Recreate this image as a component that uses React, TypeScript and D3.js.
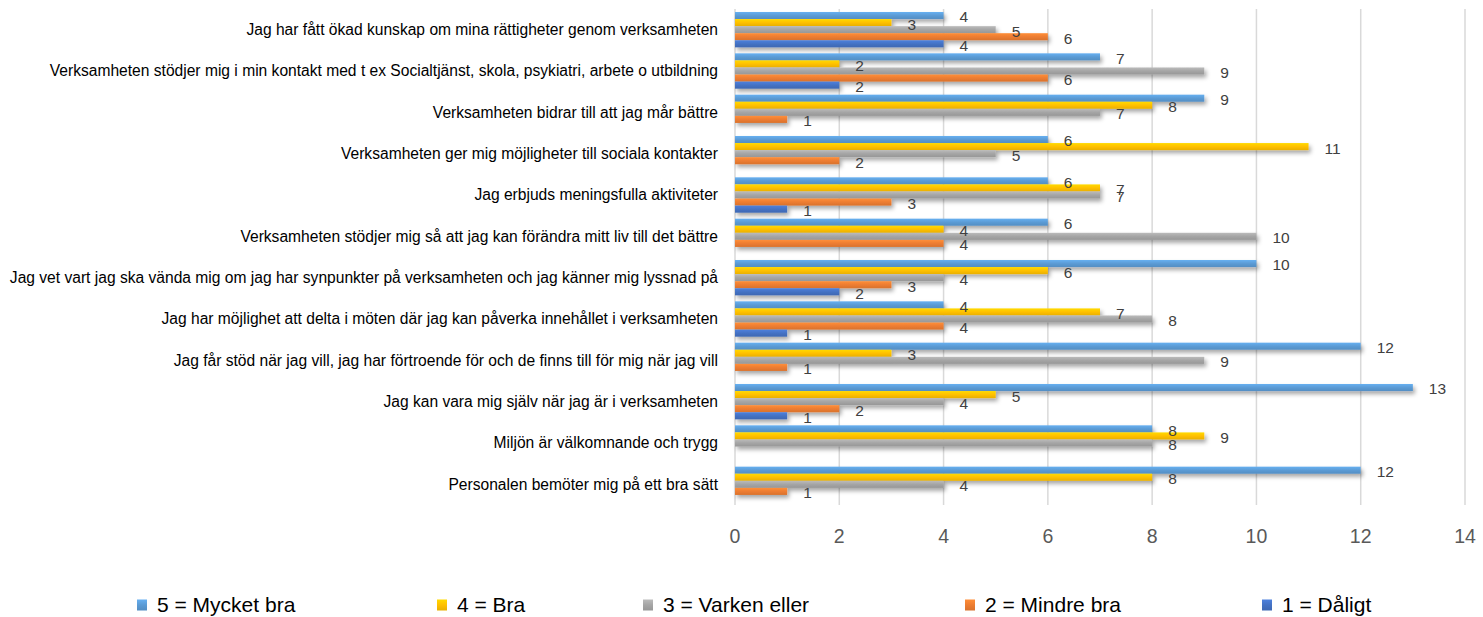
import { useEffect } from 'react'
import * as d3 from 'd3'

const categories = [
  'Jag har fått ökad kunskap om mina rättigheter genom verksamheten',
  'Verksamheten stödjer mig i min kontakt med t ex Socialtjänst, skola, psykiatri, arbete o utbildning',
  'Verksamheten bidrar till att jag mår bättre',
  'Verksamheten ger mig möjligheter till sociala kontakter',
  'Jag erbjuds meningsfulla aktiviteter',
  'Verksamheten stödjer mig så att jag kan förändra mitt liv till det bättre',
  'Jag vet vart jag ska vända mig om jag har synpunkter på verksamheten och jag känner mig lyssnad på',
  'Jag har möjlighet att delta i möten där jag kan påverka innehållet i verksamheten',
  'Jag får stöd när jag vill, jag har förtroende för och de finns till för mig när jag vill',
  'Jag kan vara mig själv när jag är i verksamheten',
  'Miljön är välkomnande och trygg',
  'Personalen bemöter mig på ett bra sätt',
]

const seriesNames = ['5 = Mycket bra', '4 = Bra', '3 = Varken eller', '2 = Mindre bra', '1 = Dåligt']
const seriesColors = ['#5B9BD5', '#FFC000', '#A5A5A5', '#ED7D31', '#4472C4']

// one array per series, in category order (null = no answer)
const mycketBra = [4, 7, 9, 6, 6, 6, 10, 4, 12, 13, 8, 12]
const bra = [3, 2, 8, 11, 7, 4, 6, 7, 3, 5, 9, 8]
const varkenEller = [5, 9, 7, 5, 7, 10, 4, 8, 9, 4, 8, 4]
const mindreBra = [6, 6, 1, 2, 3, 4, 3, 4, 1, 2, null, 1]
const daligt = [4, 2, null, null, 1, null, 2, 1, null, 1, null, null]

const seriesValues: (number | null)[][] = [mycketBra, bra, varkenEller, mindreBra, daligt]
const xTicks = [0, 2, 4, 6, 8, 10, 12, 14]

const legendX = [137, 437, 643, 965, 1262]

const W = 1483
const H = 617
const FONT = "'Liberation Sans', Arial, sans-serif"

export default function App() {
  useEffect(() => {
    document.body.style.margin = '0'
  }, [])

  const x = d3.scaleLinear().domain([0, 14]).range([735, 1465])
  const y = d3.scaleBand<string>().domain(categories).range([9, 505]).paddingInner(0.145).paddingOuter(0.0725)
  const ys = d3.scaleBand<number>().domain(d3.range(seriesNames.length)).range([0, y.bandwidth()])

  const shade = (c: string, k: number) => d3.color(c)!.brighter(k).formatHex()

  return (
    <svg width={W} height={H} style={{ display: 'block', background: '#fff' }} fontFamily={FONT}>
      <defs>
        <filter id="shadow" x="-5%" y="-60%" width="115%" height="260%">
          <feDropShadow dx="2" dy="3" stdDeviation="2" floodColor="#000" floodOpacity="0.35" />
        </filter>
        {seriesColors.map((c, i) => (
          <linearGradient key={i} id={`grad${i}`} x1="0" y1="0" x2="0" y2="1">
            <stop offset="0" stopColor={shade(c, 0.35)} />
            <stop offset="0.5" stopColor={c} />
            <stop offset="1" stopColor={d3.color(c)!.darker(0.25).formatHex()} />
          </linearGradient>
        ))}
      </defs>

      {/* gridlines */}
      {xTicks.map((t) => (
        <line key={t} x1={x(t)} x2={x(t)} y1={9} y2={505} stroke="#D9D9D9" strokeWidth={1.5} />
      ))}

      {/* bars */}
      <g filter="url(#shadow)">
        {categories.map((c, ci) =>
          seriesValues.map((vals, si) => {
            const v = vals[ci]
            if (v == null) return null
            return (
              <rect
                key={`${ci}-${si}`}
                x={x(0)}
                y={y(c)! + ys(si)!}
                width={x(v) - x(0)}
                height={ys.bandwidth()}
                fill={`url(#grad${si})`}
              />
            )
          })
        )}
      </g>

      {/* value labels */}
      {categories.map((c, ci) =>
        seriesValues.map((vals, si) => {
          const v = vals[ci]
          if (v == null) return null
          return (
            <text
              key={`l${ci}-${si}`}
              x={x(v) + 16}
              y={y(c)! + ys(si)! + ys.bandwidth() / 2 + 1.5}
              dy="0.35em"
              fontSize={15.5}
              fill="#404040"
            >
              {v}
            </text>
          )
        })
      )}

      {/* category labels */}
      {categories.map((c) => (
        <text key={c} x={718} y={y(c)! + y.bandwidth() / 2} dy="0.35em" textAnchor="end" fontSize={15.6} fill="#000">
          {c}
        </text>
      ))}

      {/* x tick labels */}
      {xTicks.map((t) => (
        <text key={`t${t}`} x={x(t)} y={536} dy="0.35em" textAnchor="middle" fontSize={19.5} fill="#595959">
          {t}
        </text>
      ))}

      {/* legend */}
      {seriesNames.map((n, i) => (
        <g key={n} transform={`translate(${legendX[i]},605)`}>
          <rect x={0} y={-5.5} width={10} height={11} fill={`url(#grad${i})`} />
          <text x={20} y={0} dy="0.35em" fontSize={21} fill="#000">
            {n}
          </text>
        </g>
      ))}
    </svg>
  )
}
